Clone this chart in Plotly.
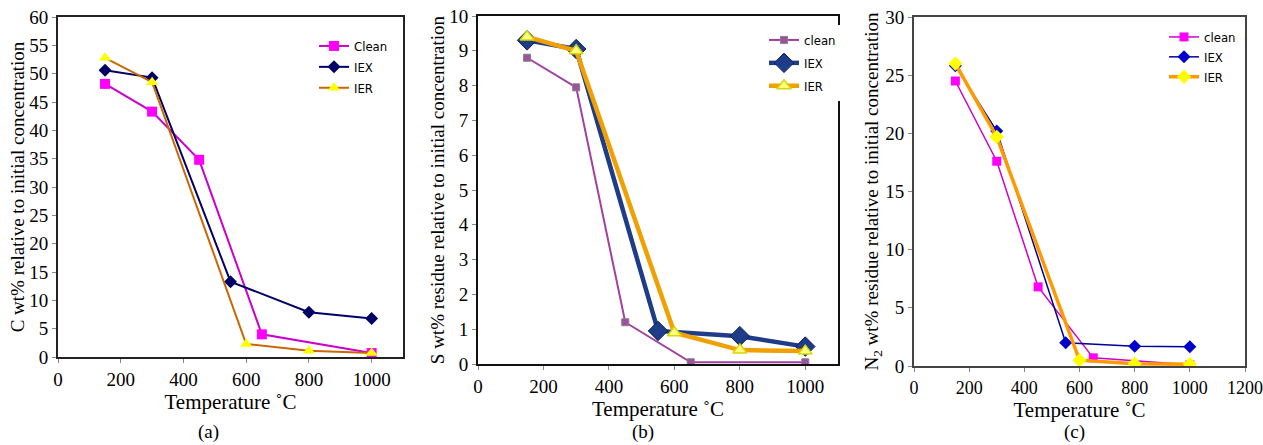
import plotly.graph_objects as go

# ---------------- data ----------------
# Panel (a): C wt% relative to initial concentration
a_clean_x = [150, 300, 450, 650, 1000]
a_clean_y = [48.2, 43.3, 34.8, 4.0, 0.7]
a_iex_x = [150, 300, 550, 800, 1000]
a_iex_y = [50.6, 49.3, 13.3, 7.9, 6.8]
a_ier_x = [150, 300, 600, 800, 1000]
a_ier_y = [52.8, 48.5, 2.3, 1.1, 0.7]

# Panel (b): S wt% residue relative to initial concentration
b_clean_x = [150, 300, 450, 650, 1000]
b_clean_y = [8.8, 7.95, 1.2, 0.05, 0.05]
b_iex_x = [150, 300, 550, 800, 1000]
b_iex_y = [9.3, 9.05, 0.95, 0.8, 0.5]
b_ier_x = [150, 300, 600, 800, 1000]
b_ier_y = [9.4, 9.0, 0.9, 0.4, 0.37]

# Panel (c): N2 wt% residue relative to initial concentration
c_clean_x = [150, 300, 450, 650, 1000]
c_clean_y = [24.5, 17.6, 6.8, 0.7, 0.1]
c_iex_x = [150, 300, 550, 800, 1000]
c_iex_y = [25.8, 20.2, 2.0, 1.7, 1.65]
c_ier_x = [150, 300, 600, 800, 1000]
c_ier_y = [26.0, 19.7, 0.5, 0.2, 0.15]

x_title = "Temperature ˚C"
y_titles = ["C wt% relative to initial concentration",
            "S wt% residue relative to initial concentration",
            "N<sub>2</sub> wt% residue relative to initial concentration"]
panel_labels = ["(a)", "(b)", "(c)"]

SERIF = "Liberation Serif, Times New Roman, serif"
SANS = "Liberation Sans Narrow, DejaVu Sans Condensed, Liberation Sans, sans-serif"
W, H = 1263, 445

fig = go.Figure()

def add(x, y, name, xa, ya, lg, lcol, lw, sym, msize, mcol, mline=None, mlw=0):
    fig.add_trace(go.Scatter(
        x=x, y=y, name=name, mode="lines+markers", xaxis=xa, yaxis=ya, legend=lg,
        legendgroup=lg + name,
        line=dict(color=lcol, width=lw),
        marker=dict(symbol=sym, size=msize, color=mcol,
                    line=dict(color=mline or mcol, width=mlw)),
    ))

# (a)
add(a_clean_x, a_clean_y, "Clean", "x", "y", "legend", "#CC00CC", 2, "square", 10, "#FF00FF")
add(a_iex_x, a_iex_y, "IEX", "x", "y", "legend", "#000066", 2, "diamond", 10, "#000066")
add(a_ier_x, a_ier_y, "IER", "x", "y", "legend", "#CC6600", 2, "triangle-up", 11, "#FFFF00")
# (b)
add(b_clean_x, b_clean_y, "clean", "x2", "y2", "legend2", "#A040A0", 2, "square", 7, "#A050A0", "#808080", 1)
add(b_iex_x, b_iex_y, "IEX", "x2", "y2", "legend2", "#1F3C88", 4.5, "diamond", 15, "#1F3C88", "#0A1F5C", 1)
add(b_ier_x, b_ier_y, "IER", "x2", "y2", "legend2", "#F0A000", 4.5, "triangle-up", 12, "#FFFF88", "#D8D800", 1.5)
# (c)
add(c_clean_x, c_clean_y, "clean", "x3", "y3", "legend3", "#CC00CC", 1.5, "square", 9, "#FF00FF")
add(c_iex_x, c_iex_y, "IEX", "x3", "y3", "legend3", "#000099", 1.5, "diamond", 10, "#0000CC")
add(c_ier_x, c_ier_y, "IER", "x3", "y3", "legend3", "#FF9900", 3.5, "diamond", 11, "#FFFF00")

# domains in pixels (left, right, top, bottom)
boxes = [(58, 403, 17, 357), (478, 838, 16, 364), (914, 1245, 17, 366)]
xranges = [[0, 1100], [0, 1100], [0, 1200]]
yranges = [[0, 60], [0, 10], [0, 30]]
ydticks = [5, 1, 5]
xtick_sizes = [19, 19, 18]
axcols = ["#222222", "#111111", "#444444"]
ystand = [0, 0, 1]

layout = dict(
    width=W, height=H, margin=dict(l=0, r=0, t=0, b=0),
    paper_bgcolor="white", plot_bgcolor="white", showlegend=True,
    font=dict(family=SERIF, color="black", size=17),
)
for i, (l, r, t, b) in enumerate(boxes):
    sfx = "" if i == 0 else str(i + 1)
    layout["xaxis" + sfx] = dict(
        domain=[l / W, r / W], range=xranges[i], anchor="y" + sfx,
        tick0=0, dtick=200, ticks="outside", ticklen=4, tickcolor="#888888",
        showline=True, linecolor=axcols[i], linewidth=2, mirror=True,
        showgrid=False, zeroline=False, ticklabeloverflow="allow",
        tickfont=dict(family=SERIF, size=xtick_sizes[i], color="black"),
        title=dict(text=x_title, font=dict(family=SERIF, size=21, color="black"), standoff=6),
        automargin=False,
    )
    layout["yaxis" + sfx] = dict(
        domain=[1 - b / H, 1 - t / H], range=yranges[i], anchor="x" + sfx,
        tick0=0, dtick=ydticks[i], ticks="outside", ticklen=4, tickcolor="#888888",
        showline=True, linecolor=axcols[i], linewidth=2, mirror=True,
        showgrid=False, zeroline=False, ticklabeloverflow="allow",
        tickfont=dict(family=SERIF, size=19, color="black"),
        title=dict(text=y_titles[i], font=dict(family=SERIF, size=19, color="black"), standoff=ystand[i]),
        automargin=False,
    )

leg_common = dict(xanchor="left", yanchor="top", bgcolor="rgba(255,255,255,0)",
                  font=dict(family=SANS, size=13, color="black"),
                  tracegroupgap=1, traceorder="grouped", itemclick=False)
layout["legend"] = dict(x=314 / W, y=1 - 31 / H, **leg_common)
layout["legend2"] = dict(x=764 / W, y=1 - 25 / H,
                         **{**leg_common, "bgcolor": "white", "tracegroupgap": 3})
layout["legend3"] = dict(x=1164 / W, y=1 - 22 / H, **{**leg_common, "tracegroupgap": 0})

ann_x = [208, 643, 1074]
layout["annotations"] = [
    dict(text=panel_labels[i], x=ann_x[i] / W, y=1 - 432 / H, xref="paper", yref="paper",
         xanchor="center", yanchor="middle",
         showarrow=False, font=dict(family=SERIF, size=19, color="black"))
    for i in range(3)
]

fig.update_layout(**layout)
fig.write_html("out.html", config={"displayModeBar": False},
               post_script="document.body.style.margin='0';document.body.style.overflow='hidden';")
